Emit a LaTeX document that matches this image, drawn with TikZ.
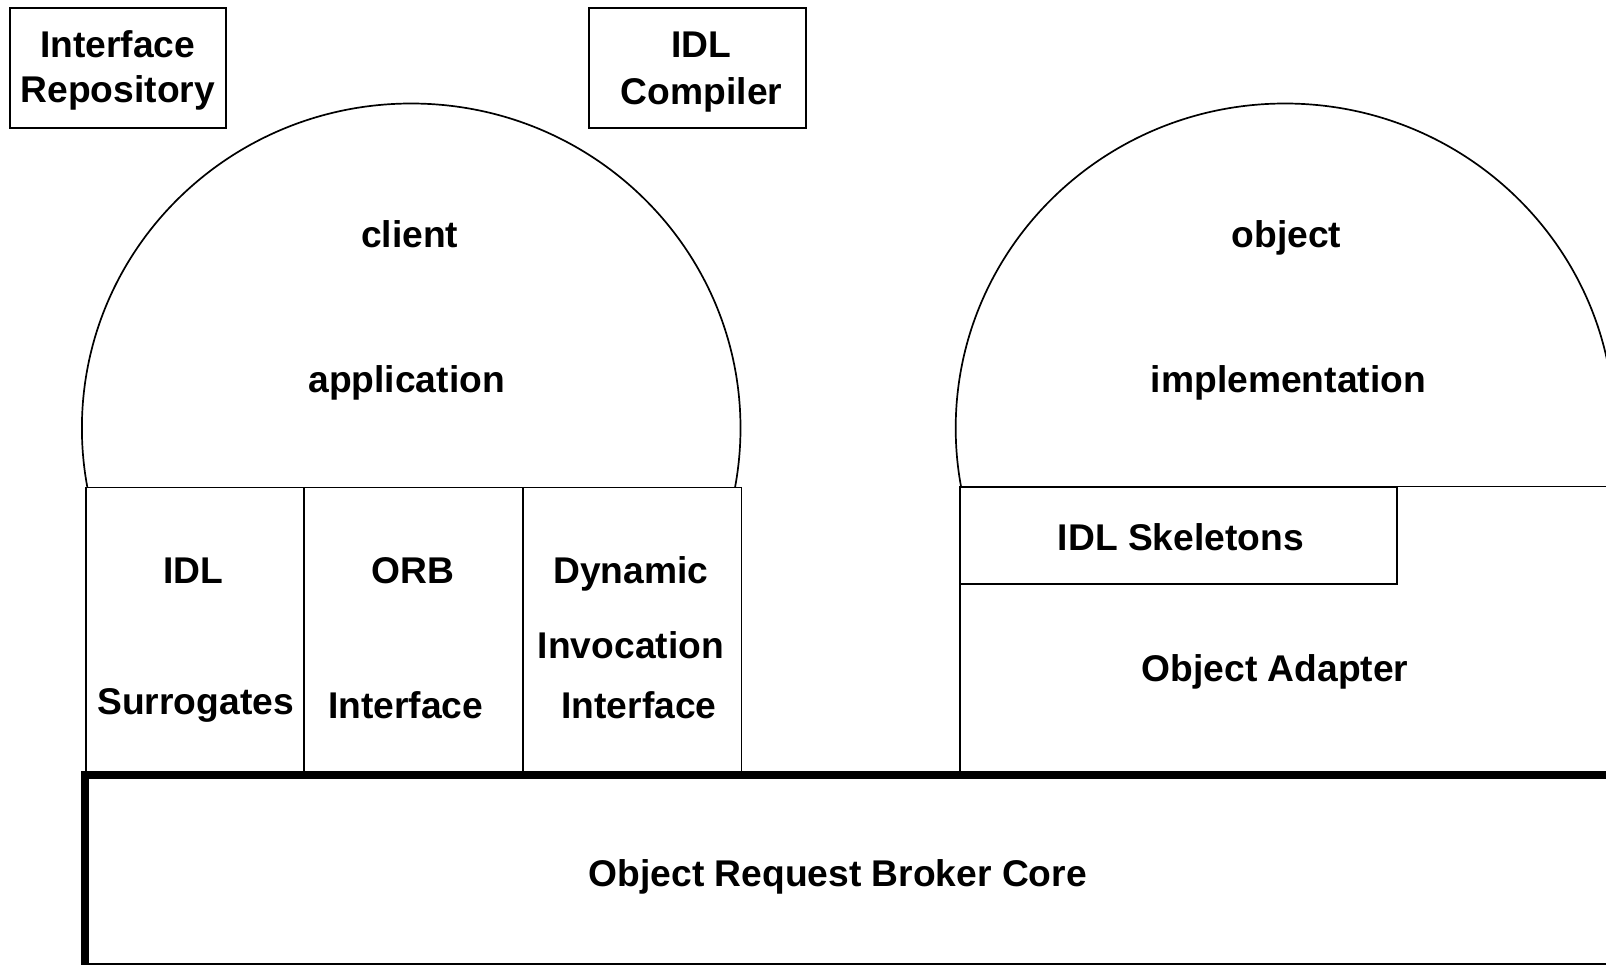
\documentclass[tikz,border=0pt]{standalone}
\usepackage{fontspec}
\setmainfont{Liberation Sans}
\begin{document}
\begin{tikzpicture}[x=0.5pt,y=-0.5pt,
  lbl/.style={font=\fontsize{18.6pt}{22pt}\selectfont\bfseries, anchor=base, inner sep=0pt},
  ln/.style={line width=0.85pt},
  boxnode/.style={draw, ln, rectangle, inner sep=0pt, anchor=north west}]
  \useasboundingbox (0,0) rectangle (1606,964);
  \clip (0,0) rectangle (1606,964);

  % tool boxes at the top
  \node[boxnode, minimum width=108pt, minimum height=60pt] (repo) at (9,7) {};
  \node[boxnode, minimum width=108.5pt, minimum height=60pt] (comp) at (588,7) {};
  \node[lbl] (repo1) at (117.8,57) {Interface};
  \node[lbl] (repo2) at (117.8,102) {Repository};
  \node[lbl] (comp1) at (701.6,57) {IDL};
  \node[lbl] (comp2) at (701.6,104) {Compiler};

  % domes (client and object), cut off at the top of the layers below
  \coordinate (cdome) at (411.2,428.1);
  \coordinate (odome) at (1285,428.1);
  \begin{scope}
    \clip (0,0) rectangle (1606,486.5);
    \draw[ln] (cdome) ellipse[x radius=164.65pt, y radius=162.3pt];
    \draw[ln] (odome) ellipse[x radius=164.65pt, y radius=162.3pt];
  \end{scope}
  \node[lbl] (client) at (409.7,247.5) {client};
  \node[lbl] (app) at (406.6,392) {application};
  \node[lbl] (obj) at (1286.4,247.5) {object};
  \node[lbl] (impl) at (1288.4,392) {implementation};

  % client-side interfaces
  \node[boxnode, minimum width=109.1pt, minimum height=144.25pt] (surr) at (85,486.5) {};
  \node[boxnode, minimum width=109.55pt, minimum height=144.25pt] (orbi) at (303.2,486.5) {};
  \node[boxnode, minimum width=109.1pt, minimum height=144.25pt] (dii) at (522.3,486.5) {};
  \node[lbl] at (193.6,583.5) {IDL};
  \node[lbl] at (195.6,714.6) {Surrogates};
  \node[lbl] at (412.8,583.5) {ORB};
  \node[lbl] at (405.6,718.7) {Interface};
  \node[lbl] at (630.9,583.5) {Dynamic};
  \node[lbl] at (630.9,658.2) {Invocation};
  \node[lbl] at (639,718.7) {Interface};

  % server side: object adapter with skeletons
  \coordinate (oa-nw) at (959.7,486.5);
  \coordinate (oa-ne) at (1620,486.5);
  \coordinate (oa-sw) at (959.7,775);
  \draw[ln] (oa-ne) -- (oa-nw) -- (oa-sw);
  \node[boxnode, minimum width=218.15pt, minimum height=48.15pt] (skel) at (oa-nw) {};
  \node[lbl] at (1180.9,550.7) {IDL Skeletons};
  \node[lbl] at (1275.1,681.8) {Object Adapter};

  % ORB core
  \draw[line width=4pt] (85,775) rectangle (1700,967);
  \node[lbl] (core) at (837.8,886.6) {Object Request Broker Core};
\end{tikzpicture}
\end{document}
